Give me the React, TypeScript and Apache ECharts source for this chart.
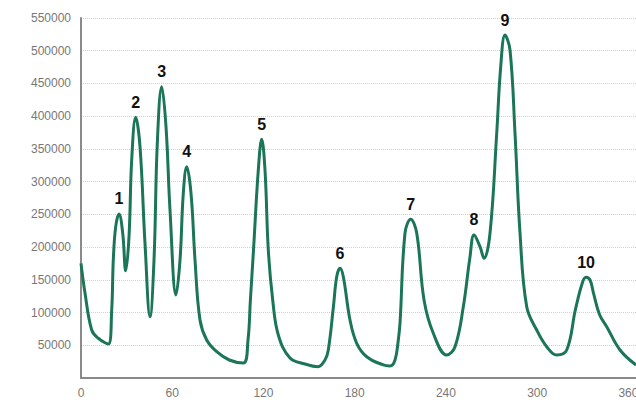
import React, { useEffect, useRef } from "react";
import * as echarts from "echarts";

const angles = [
  0, 2.63, 7.04, 11.38, 17.95, 20.19, 21.24, 22.82, 24.99, 27.42, 29.4, 31.57, 33.34,
  35.98, 38.8, 42.09, 45.38, 48.01, 50.18, 53.07, 55.9, 58.53, 62.48, 65.11, 67.28,
  69.52, 72.35, 74.98, 78.26, 82.67, 89.25, 97.53, 106.74, 109.83, 111.4, 113.45,
  116.61, 118.84, 121.01, 123.18, 126.08, 129.76, 137.45, 147.32, 155.87, 160.47,
  162.64, 166.0, 168.17, 170.34, 172.51, 176.91, 181.32, 187.9, 198.82, 203.22,
  206.51, 208.68, 209.8, 213.09, 216.84, 220.78, 225.6, 231.7, 240.51, 245.97,
  251.43, 255.84, 258.47, 262.41, 265.05, 269.0, 273.4, 276.03, 278.86, 282.14,
  285.43, 288.72, 293.13, 299.7, 306.28, 312.86, 319.43, 325.2, 329.8, 332.13,
  334.76, 337.0, 341.0, 345.74, 354.49, 365,
];
const intensities = [
  175200, 129900, 73300, 60700, 51900, 103900, 180300, 231200, 250600, 221500, 163900,
  215900, 333100, 398300, 353400, 205800, 93700, 180300, 358600, 445100, 384000,
  256700, 126800, 180300, 282200, 322800, 282200, 180300, 88600, 58100, 40200, 27500,
  22900, 58100, 119200, 195600, 317800, 364700, 317800, 195600, 119200, 65700, 30600,
  21400, 17300, 27500, 42800, 108900, 154800, 167600, 154800, 88600, 53000, 32500,
  19900, 18300, 27500, 58100, 84000, 221500, 242500, 221500, 119200, 68300, 35100,
  47800, 108900, 185300, 218500, 200600, 182900, 221500, 373800, 475600, 524000,
  501100, 373800, 221500, 108900, 73300, 47800, 35100, 42800, 105000, 146000, 153800,
  149700, 130000, 97000, 78400, 42800, 19900,
];
const peakIndices = [8, 13, 19, 25, 37, 49, 60, 68, 74, 85];
const peakLabels = ["1", "2", "3", "4", "5", "6", "7", "8", "9", "10"];
const xTicks = [0, 60, 120, 180, 240, 300, 360];
const yMax = 550000;
const yStep = 50000;

export default function App() {
  const ref = useRef<HTMLDivElement>(null);
  useEffect(() => {
    if (!ref.current) return;
    const chart = echarts.init(ref.current, undefined, { renderer: "svg" });
    const data = angles.map((a, i) => [a, intensities[i]]);
    const marks = peakIndices.map((idx, k) => ({
      name: peakLabels[k],
      coord: [angles[idx], intensities[idx]],
    }));
    chart.setOption({
      animation: false,
      grid: { left: 81, right: 0, top: 18, bottom: 22, outerBoundsMode: "none" },
      xAxis: {
        type: "value",
        min: 0,
        max: 365,
        interval: 60,
        axisLine: { show: true, lineStyle: { color: "#8a8a8a", width: 2 } },
        axisTick: { show: false },
        splitLine: { show: false },
        axisLabel: {
          color: "#777",
          fontSize: 12,
          margin: 9,
          fontFamily: "'Liberation Sans', Arial, sans-serif",
          formatter: (v: number) => (xTicks.indexOf(v) >= 0 ? String(v) : ""),
        },
      },
      yAxis: {
        type: "value",
        min: 0,
        max: yMax,
        interval: yStep,
        axisLine: { show: true, lineStyle: { color: "#8a8a8a", width: 2 } },
        axisTick: { show: false },
        splitLine: { show: true, lineStyle: { color: "#cfcfcf", type: "dotted", width: 1 } },
        axisLabel: {
          color: "#777",
          fontSize: 12,
          margin: 10,
          fontFamily: "'Liberation Sans', Arial, sans-serif",
          showMinLabel: false,
          formatter: (v: number) => String(v),
        },
      },
      series: [
        {
          type: "line",
          data,
          smooth: 0.4,
          showSymbol: false,
          itemStyle: { color: "#1b7557" },
          lineStyle: { color: "#1b7557", width: 3 },
          markPoint: {
            symbol: "circle",
            symbolSize: 2,
            itemStyle: { color: "rgba(0,0,0,0)" },
            label: {
              show: true,
              position: "top",
              distance: 6,
              formatter: "{b}",
              fontFamily: "'Liberation Sans Narrow', 'Liberation Sans', Arial, sans-serif",
              fontWeight: "bold",
              fontSize: 16,
              color: "#111",
            },
            data: marks,
          },
        },
      ],
    });
    return () => chart.dispose();
  }, []);
  return <div ref={ref} style={{ width: 636, height: 400, position: "absolute", left: 0, top: 0 }} />;
}
